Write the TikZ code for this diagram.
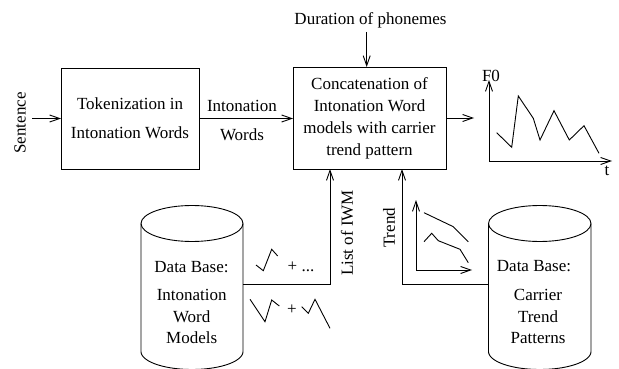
\documentclass[tikz,border=0pt]{standalone}
\usepackage{fontspec}
\setmainfont{Liberation Serif}
\usetikzlibrary{arrows.meta}
\begin{document}
\begin{tikzpicture}[x=1pt,y=-1pt,
  line width=0.9pt,
  every node/.style={inner sep=0pt, outer sep=0pt},
  txt/.style={font=\fontsize{17}{22}\selectfont, align=center},
  wide/.style={font=\fontsize{17}{29}\selectfont, align=center},
  stack/.style={font=\fontsize{17}{21.5}\selectfont, align=center},
  block/.style={draw},
  arr/.style={-{Straight Barb[length=10pt,width=7pt]}}]
\useasboundingbox (0,0) rectangle (619,369);

% processing blocks
\node[block, wide, minimum width=138pt, minimum height=101pt] (tok) at (130,118.5)
  {Tokenization in\\Intonation Words};
\node[block, txt, minimum width=153pt, minimum height=102pt] (cat) at (369.5,118)
  {Concatenation of\\Intonation Word\\models with carrier\\trend pattern};

% input sentence
\node[txt, rotate=90] (sent) at (20,123) {Sentence};
\coordinate (sentIn) at (32,118.5);
\draw[arr] (sentIn) -- (tok.west);

% intonation words between the blocks
\draw[arr] (tok.east) -- (cat.west |- tok.east);
\node[wide] (iw) at (242,120.5) {Intonation\\Words};

% phoneme durations
\node[txt] (dur) at (370.5,20) {Duration of phonemes};
\coordinate (durTop) at (366.7,32);
\draw[arr] (durTop) -- (durTop |- cat.north);

% output F0 contour
\coordinate (f0out) at (474,118);
\draw[arr] (cat.east) -- (f0out);
\coordinate (f0o) at (489,161);
\coordinate (f0y) at (489,80);
\coordinate (f0x) at (612,161);
\draw[arr] (f0o) -- (f0y);
\draw[arr] (f0o) -- (f0x);
\node[txt] (f0lab) at (491,76) {F0};
\node[txt] (tlab) at (607,171) {t};
\draw (496.7,132.7) -- (511.7,147.3) -- (518.3,96) -- (533.3,118.3) -- (540,140)
  -- (554,110.7) -- (569.3,140) -- (584,125.7) -- (599,153.3);

% database of intonation word models
\draw (192,223.5) ellipse [x radius=51, y radius=18];
\draw (141,223.5) -- (141,351.5)
  -- plot[domain=180:360, samples=40] ({192+51*cos(\x)},{351.5-18*sin(\x)})
  -- (243,223.5);
\node[txt] (db1h) at (191.5,267) {Data Base:};
\node[stack] (db1t) at (191.7,316.5) {Intonation\\Word\\Models};

% database of carrier trend patterns
\draw (539.75,223.5) ellipse [x radius=51.25, y radius=18];
\draw (488.5,223.5) -- (488.5,351.5)
  -- plot[domain=180:360, samples=40] ({539.75+51.25*cos(\x)},{351.5-18*sin(\x)})
  -- (591,223.5);
\node[txt] (db2h) at (534,266) {Data Base:};
\node[stack] (db2t) at (538,316.5) {Carrier\\Trend\\Patterns};

% list of intonation word models
\coordinate (db1out) at (243,284.5);
\draw[arr] (db1out) -| (330,0 |- cat.south);
\node[txt, rotate=90] (iwm) at (347,233) {List of IWM};
\draw (256,265) -- (263.3,270.7) -- (271.7,249.3) -- (277.7,256);
\node[txt, anchor=base] (plus1) at (301,271) {+ ...};
\draw (250,299.3) -- (265,321.7) -- (271.7,300) -- (279.3,306);
\node[txt, anchor=base] (plus2) at (292,314) {+};
\draw (301.7,306.7) -- (308.3,313.3) -- (315,299.3) -- (330,328.3);

% carrier trend
\coordinate (db2out) at (488.5,284.5);
\draw[arr] (db2out) -| (402,0 |- cat.south);
\node[txt, rotate=90] (trend) at (389,228) {Trend};
\coordinate (tro) at (416,270);
\coordinate (try) at (416,200);
\coordinate (trx) at (472,270);
\draw[arr] (tro) -- (try);
\draw[arr] (tro) -- (trx);
\draw (424,212.7) -- (453.3,226.7) -- (468.3,241.7);
\draw (424,241.7) -- (431.7,233.3) -- (438.3,240.7) -- (460,249.3) -- (468.3,262.7);
\end{tikzpicture}
\end{document}
